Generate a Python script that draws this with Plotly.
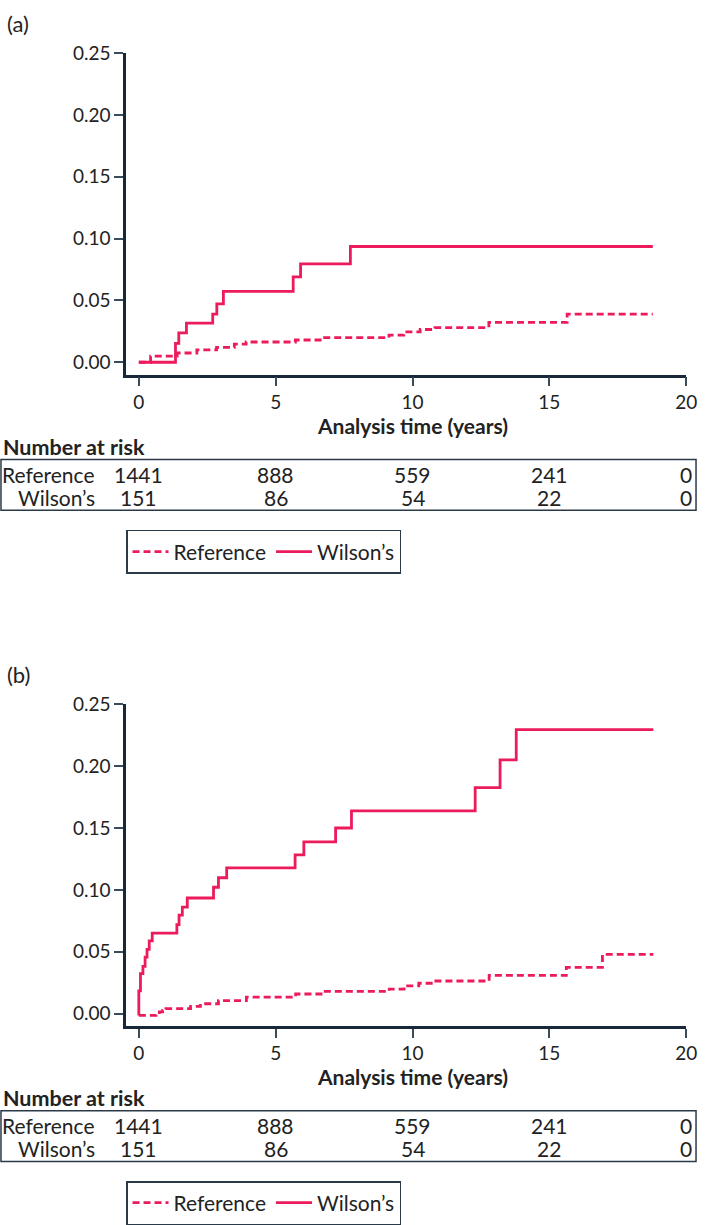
import plotly.graph_objects as go

# cumulative incidence, panel (a)
a_ref_t = [0, 0.43, 1.40, 2.12, 2.84, 3.49, 3.92, 5.72, 6.73, 9.14, 9.68, 10.28, 10.82, 12.79, 15.65, 18.78]
a_ref_y = [0, 0.0049, 0.0075, 0.0101, 0.0120, 0.0146, 0.0164, 0.0180, 0.0199, 0.0220, 0.0246, 0.0265, 0.0280, 0.0322, 0.0389, 0.0389]
a_wil_t = [0, 1.34, 1.46, 1.74, 2.70, 2.85, 3.09, 5.64, 5.91, 7.73, 18.78]
a_wil_y = [0, 0.0152, 0.0238, 0.0317, 0.0390, 0.0472, 0.0573, 0.0690, 0.0796, 0.0936, 0.0936]

# cumulative incidence, panel (b)
b_ref_t = [0, 0.63, 0.75, 0.87, 0.99, 1.89, 2.25, 2.91, 3.93, 5.73, 6.75, 9.15, 9.69, 10.23, 10.77, 12.80, 15.62, 16.94, 18.80]
b_ref_y = [-0.0015, -0.0005, 0.0013, 0.0026, 0.0039, 0.0058, 0.0079, 0.0105, 0.0132, 0.0158, 0.0179, 0.0197, 0.0224, 0.0245, 0.0263, 0.0308, 0.0374, 0.0479, 0.0479]
b_wil_t = [0, 0, 0.06, 0.15, 0.23, 0.30, 0.38, 0.49, 1.39, 1.47, 1.59, 1.77, 2.73, 2.91, 3.21, 5.71, 6.03, 7.19, 7.77, 12.29, 13.20, 13.79, 18.80]
b_wil_y = [-0.0015, 0.0184, 0.0322, 0.0382, 0.0456, 0.0519, 0.0587, 0.0650, 0.0719, 0.0795, 0.0861, 0.0934, 0.1021, 0.1098, 0.1177, 0.1282, 0.1388, 0.1500, 0.1638, 0.1827, 0.2051, 0.2296, 0.2296]

# number at risk
risk_times = [0, 5, 10, 15, 20]
ref_risk = [1441, 888, 559, 241, 0]
wil_risk = [151, 86, 54, 22, 0]

y_ticks = [0, 0.05, 0.10, 0.15, 0.20, 0.25]
x_ticks = [0, 5, 10, 15, 20]

W, H = 709, 1225
PINK = "#EC1B5B"
AXIS = "#17283a"
TXT = "#222222"
FONT = "Lato"


def py(p):
    # pixel row -> paper y
    return 1 - p / H


def px(p):
    return p / W


fig = go.Figure()

panels = [
    ("(a)", 0.0, a_ref_t, a_ref_y, a_wil_t, a_wil_y, "x", "y", "legend"),
    ("(b)", 666.5, b_ref_t, b_ref_y, b_wil_t, b_wil_y, "x2", "y2", "legend2"),
]

for label, off, rt, ry, wt, wy, xr, yr, lg in panels:
    fig.add_trace(go.Scatter(
        x=rt, y=ry, mode="lines", line_shape="hv", name="Reference",
        line=dict(color=PINK, width=2.8, dash="7px,4px"),
        xaxis=xr, yaxis=yr, legend=lg, hoverinfo="skip"))
    fig.add_trace(go.Scatter(
        x=wt, y=wy, mode="lines", line_shape="hv", name="Wilson\u2019s",
        line=dict(color=PINK, width=2.8),
        xaxis=xr, yaxis=yr, legend=lg, hoverinfo="skip"))

    # panel label
    fig.add_annotation(text=label, xref="paper", yref="paper", x=px(5), y=py(12 + off),
                       xanchor="left", yanchor="middle", showarrow=False,
                       font=dict(size=22, color=TXT, family=FONT))
    # x-axis title
    fig.add_annotation(text="<b>Analysis time (years)</b>", xref=xr, yref="paper", x=10, y=py(423 + off),
                       xanchor="center", yanchor="middle", showarrow=False,
                       font=dict(size=21, color=TXT, family=FONT))
    fig.add_annotation(text="<b>Number at risk</b>", xref="paper", yref="paper", x=px(1), y=py(445 + off),
                       xanchor="left", yanchor="middle", showarrow=False,
                       font=dict(size=21.5, color=TXT, family=FONT))
    # risk table box
    fig.add_shape(type="rect", xref="paper", yref="paper",
                  x0=px(1), x1=px(707), y0=py(510 + off), y1=py(458 + off),
                  line=dict(color="#2b3a48", width=1.5))
    for row_name, vals, row_y in [("Reference", ref_risk, 473), ("Wilson\u2019s", wil_risk, 497)]:
        fig.add_annotation(text=row_name, xref="paper", yref="paper", x=px(99), y=py(row_y + off),
                           xanchor="right", yanchor="middle", showarrow=False,
                           font=dict(size=21, color=TXT, family=FONT))
        for t, v in zip(risk_times, vals):
            fig.add_annotation(text=str(v), xref=xr, yref="paper", x=t, y=py(row_y + off),
                               xanchor="center", yanchor="middle", showarrow=False,
                               font=dict(size=21, color=TXT, family=FONT))

axis_common = dict(showgrid=False, zeroline=False, showline=True, linecolor=AXIS, linewidth=2.5,
                   ticks="outside", ticklen=9, tickwidth=2, tickcolor="#3a4b5b",
                   ticklabeloverflow="allow",
                   tickfont=dict(size=19, color=TXT, family=FONT))

legend_style = dict(orientation="h", x=px(128), xanchor="left", yanchor="top",
                    bordercolor="#2b3a48", borderwidth=1.5, bgcolor="white", itemwidth=36,
                    font=dict(size=21, color=TXT, family=FONT))

fig.update_layout(
    width=W, height=H, autosize=False,
    margin=dict(l=0, r=0, t=0, b=0),
    paper_bgcolor="white", plot_bgcolor="white",
    hovermode=False,
    xaxis=dict(domain=[px(128), px(697)], range=[-0.468, 20], tickvals=x_ticks, anchor="y", **axis_common),
    yaxis=dict(domain=[py(371), py(42)], range=[-0.0099, 0.25], tickvals=y_ticks,
               tickformat=".2f", anchor="x", **axis_common),
    xaxis2=dict(domain=[px(128), px(697)], range=[-0.468, 20], tickvals=x_ticks, anchor="y2", **axis_common),
    yaxis2=dict(domain=[py(371 + 666.5), py(42 + 666.5)], range=[-0.0099, 0.25], tickvals=y_ticks,
                tickformat=".2f", anchor="x2", **axis_common),
    legend=dict(y=py(530), **legend_style),
    legend2=dict(y=py(530 + 666.5), **legend_style),
)

fig.write_html("out.html", config={"displayModeBar": False},
               post_script="document.body.style.margin='0';")
